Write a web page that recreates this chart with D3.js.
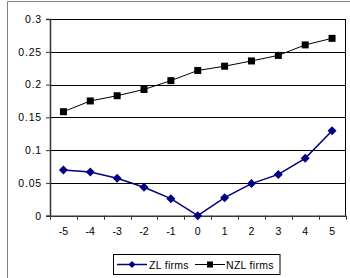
<!DOCTYPE html>
<html><head><meta charset="utf-8">
<script src="https://cdn.jsdelivr.net/npm/d3@7"></script>
<style>body{margin:0;background:#fff}svg{display:block;font-family:"Liberation Sans",Arial,sans-serif}</style>
</head><body><svg id="c" width="350" height="278"></svg>
<script>
const categories = [-5,-4,-3,-2,-1,0,1,2,3,4,5];
const zlFirms = [0.0697,0.0667,0.057,0.0433,0.026,0.0,0.0275,0.049,0.063,0.0875,0.1296];
const nzlFirms = [0.1586,0.175,0.183,0.1925,0.206,0.2215,0.228,0.236,0.2445,0.2605,0.2705];
const yTicks = [0,0.05,0.1,0.15,0.2,0.25,0.3];
const yTickLabels = ["0","0.05","0.1","0.15","0.2","0.25","0.3"];
const seriesNames = ["ZL firms","NZL firms"];

const svg = d3.select("#c");
const L=50, R=345.5, T=19, B=215.7;
const x = d3.scaleBand().domain(categories).range([L,R]);
const y = d3.scaleLinear().domain([0,0.3]).range([B,T]);

// outer frame
svg.append("path").attr("d","M7.5,290V1.5H352").attr("fill","none").attr("stroke","#808080").attr("stroke-width",1);

// gridlines
svg.append("g").selectAll("line").data(yTicks.slice(1)).join("line")
  .attr("x1",L).attr("x2",R).attr("y1",d=>Math.round(y(d))+0.5).attr("y2",d=>Math.round(y(d))+0.5)
  .attr("stroke","#000").attr("stroke-width",1);
// plot right border
svg.append("line").attr("x1",R).attr("x2",R).attr("y1",T).attr("y2",B).attr("stroke","#000");

// y axis
const ya = svg.append("g").attr("transform",`translate(${L},0)`)
  .call(d3.axisLeft(y).tickValues(yTicks).tickFormat((d,i)=>yTickLabels[i]).tickSize(4).tickPadding(4));
ya.select(".domain").attr("stroke","#333").attr("stroke-width",1.5);
ya.selectAll(".tick line").attr("stroke","#333");
ya.selectAll("text").attr("font-size",10.5).attr("letter-spacing","0.8px").attr("fill","#000").attr("font-family","Liberation Sans, Arial, sans-serif");

// x axis
const xa = svg.append("g").attr("transform",`translate(0,${B})`)
  .call(d3.axisBottom(x).tickSize(0).tickPadding(12));
xa.select(".domain").attr("stroke","#333").attr("stroke-width",1.5);
xa.selectAll("text").attr("font-size",10.5).attr("fill","#000").attr("font-family","Liberation Sans, Arial, sans-serif");
// boundary ticks between categories
const bounds = categories.map(c=>x(c)).concat([R]);
svg.append("g").selectAll("line").data(bounds).join("line")
  .attr("x1",d=>Math.round(d)+0.5).attr("x2",d=>Math.round(d)+0.5).attr("y1",B).attr("y2",B+4)
  .attr("stroke","#333");

const cx = c=>x(c)+x.bandwidth()/2;
const line = d3.line().x(d=>cx(d[0])).y(d=>y(d[1]));
const zl = categories.map((c,i)=>[c,zlFirms[i]]);
const nzl = categories.map((c,i)=>[c,nzlFirms[i]]);

svg.append("path").attr("d",line(nzl)).attr("fill","none").attr("stroke","#000").attr("stroke-width",1);
svg.append("g").selectAll("rect").data(nzl).join("rect")
  .attr("x",d=>cx(d[0])-3.5).attr("y",d=>y(d[1])-3.5).attr("width",7).attr("height",7).attr("fill","#000");

svg.append("path").attr("d",line(zl)).attr("fill","none").attr("stroke","#000080").attr("stroke-width",1.5);
const diamond = "M0,-4.5L4.5,0L0,4.5L-4.5,0Z";
svg.append("g").selectAll("path").data(zl).join("path")
  .attr("transform",d=>`translate(${cx(d[0])},${y(d[1])})`).attr("d",diamond).attr("fill","#000080");

// legend
const lg = svg.append("g");
lg.append("rect").attr("x",113.5).attr("y",254.5).attr("width",166.5).attr("height",20).attr("fill","#fff").attr("stroke","#000");
lg.append("line").attr("x1",117).attr("x2",147).attr("y1",264.5).attr("y2",264.5).attr("stroke","#000080").attr("stroke-width",1.5);
lg.append("path").attr("transform","translate(132,264.5)").attr("d","M0,-3.5L3.5,0L0,3.5L-3.5,0Z").attr("fill","#000080");
lg.append("text").attr("x",149).attr("y",268.5).attr("font-size",10.5).attr("letter-spacing","0.3px").text(seriesNames[0]);
lg.append("line").attr("x1",195).attr("x2",225).attr("y1",264.5).attr("y2",264.5).attr("stroke","#000");
lg.append("rect").attr("x",207).attr("y",261.5).attr("width",6).attr("height",6).attr("fill","#000");
lg.append("text").attr("x",226).attr("y",268.5).attr("font-size",10.5).attr("letter-spacing","0.3px").text(seriesNames[1]);
</script></body></html>
